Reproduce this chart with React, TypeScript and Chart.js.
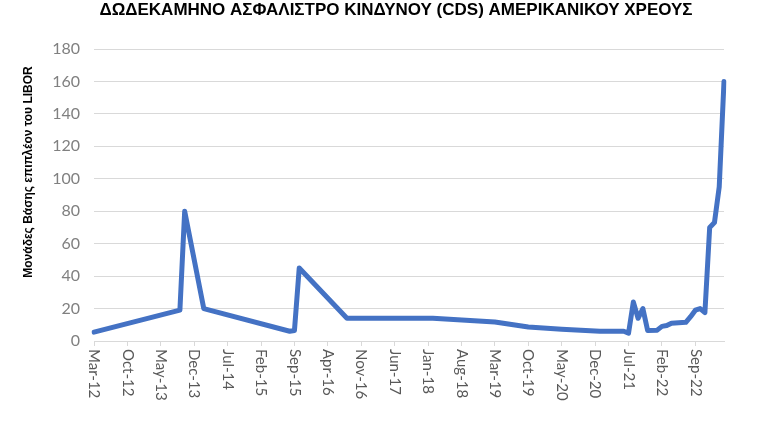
import React, { useEffect, useRef } from 'react';
import { Chart, registerables } from 'chart.js';

Chart.register(...registerables);

const TITLE = 'ΔΩΔΕΚΑΜΗΝΟ ΑΣΦΑΛΙΣΤΡΟ ΚΙΝΔΥΝΟΥ (CDS) ΑΜΕΡΙΚΑΝΙΚΟΥ ΧΡΕΟΥΣ';
const Y_TITLE = 'Μονάδες Βάσης επιπλέον του LIBOR';

const MONTH_NAMES = ['Jan', 'Feb', 'Mar', 'Apr', 'May', 'Jun', 'Jul', 'Aug', 'Sep', 'Oct', 'Nov', 'Dec'];
const FIRST_MONTH = 'Mar-12';
const LAST_MONTH = 'Mar-23';

// monthly category axis, Mar-12 .. Mar-23
const categories: string[] = [];
{
  let y = 12;
  let m = MONTH_NAMES.indexOf(FIRST_MONTH.slice(0, 3));
  for (;;) {
    const lbl = `${MONTH_NAMES[m]}-${y}`;
    categories.push(lbl);
    if (lbl === LAST_MONTH) break;
    m++;
    if (m === 12) { m = 0; y++; }
  }
}

const pointDates = [
  'Mar-12', 'Sep-13', 'Oct-13', 'Feb-14', 'Aug-15', 'Sep-15', 'Oct-15', 'Aug-16',
  'Feb-18', 'Mar-19', 'Oct-19', 'May-20', 'Jan-21', 'Jun-21', 'Jul-21', 'Aug-21',
  'Sep-21', 'Oct-21', 'Nov-21', 'Jan-22', 'Feb-22', 'Mar-22', 'Apr-22', 'Jul-22',
  'Aug-22', 'Sep-22', 'Oct-22', 'Nov-22', 'Dec-22', 'Jan-23', 'Feb-23', 'Mar-23',
];
const pointValues = [
  5.5, 19, 80, 20, 6, 6.5, 45, 14,
  14, 11.7, 8.6, 7.3, 6, 6, 4.8, 24,
  14, 20, 6.5, 6.7, 9, 9.5, 11, 11.5,
  15, 19, 20, 17.5, 70, 73, 95, 160,
];

const xTickLabels = [
  'Mar-12', 'Oct-12', 'May-13', 'Dec-13', 'Jul-14', 'Feb-15', 'Sep-15', 'Apr-16',
  'Nov-16', 'Jun-17', 'Jan-18', 'Aug-18', 'Mar-19', 'Oct-19', 'May-20', 'Dec-20',
  'Jul-21', 'Feb-22', 'Sep-22',
];
const Y_MIN = 0;
const Y_MAX = 180;
const Y_STEP = 20;

const seriesData = categories.map((c) => {
  const i = pointDates.indexOf(c);
  return i >= 0 ? pointValues[i] : null;
});

const TICK_FONT = 'Lato, "Open Sans", sans-serif';

const labelPlugin = {
  id: 'customLabels',
  afterDraw(chart: any) {
    const ctx = chart.ctx as CanvasRenderingContext2D;
    const xs = chart.scales.x;
    ctx.save();
    // x tick labels, rotated clockwise
    ctx.fillStyle = '#595959';
    ctx.font = `15px ${TICK_FONT}`;
    ctx.textAlign = 'left';
    ctx.textBaseline = 'middle';
    xTickLabels.forEach((lbl) => {
      const idx = categories.indexOf(lbl);
      const x = xs.getPixelForValue(idx);
      ctx.save();
      ctx.translate(x, xs.top + 8);
      ctx.rotate(Math.PI / 2);
      ctx.fillText(lbl, 0, 0);
      ctx.restore();
    });
    // chart title
    ctx.fillStyle = '#000000';
    ctx.font = 'bold 17px "Liberation Sans", Arial, sans-serif';
    ctx.textAlign = 'center';
    ctx.textBaseline = 'middle';
    ctx.fillText(TITLE, 396, 10);
    // y axis title
    ctx.font = 'bold 12px "Liberation Sans", Arial, sans-serif';
    ctx.translate(29, 172);
    ctx.rotate(-Math.PI / 2);
    ctx.fillText(Y_TITLE, 0, 0);
    ctx.restore();
  },
};

export default function App() {
  const ref = useRef<HTMLCanvasElement | null>(null);
  useEffect(() => {
    if (!ref.current) return;
    const chart = new Chart(ref.current, {
      type: 'line',
      data: {
        labels: categories,
        datasets: [
          {
            data: seriesData,
            borderColor: '#4472C4',
            backgroundColor: '#4472C4',
            borderWidth: 5,
            pointRadius: 0,
            pointHoverRadius: 0,
            tension: 0,
            spanGaps: true,
            borderJoinStyle: 'round',
            borderCapStyle: 'round',
          },
        ],
      },
      options: {
        animation: false,
        responsive: true,
        maintainAspectRatio: false,
        layout: { padding: { left: 30, top: 49, right: 34, bottom: 0 } },
        plugins: {
          legend: { display: false },
          title: { display: false },
          tooltip: { enabled: false },
        },
        scales: {
          x: {
            type: 'category',
            offset: false,
            afterFit: (s: any) => { s.height = 85; },
            ticks: { display: false, autoSkip: false },
            grid: {
              drawOnChartArea: false,
              drawTicks: true,
              tickLength: 5,
              color: (c: any) => (xTickLabels.includes(categories[c.index]) ? '#d9d9d9' : 'rgba(0,0,0,0)'),
            },
            border: { display: true, color: '#d9d9d9', width: 1 },
          },
          y: {
            min: Y_MIN,
            max: Y_MAX,
            afterFit: (s: any) => { s.width = 64; },
            ticks: {
              stepSize: Y_STEP,
              padding: 14,
              color: '#808080',
              font: { family: TICK_FONT, size: 16 },
            },
            grid: { color: '#d9d9d9', lineWidth: 1, drawTicks: false },
            border: { display: false },
          },
        },
      },
      plugins: [labelPlugin],
    });
    return () => chart.destroy();
  }, []);
  return (
    <div style={{ position: 'fixed', left: 0, top: 0, width: 758, height: 426, background: '#fff' }}>
      <canvas ref={ref} />
    </div>
  );
}
